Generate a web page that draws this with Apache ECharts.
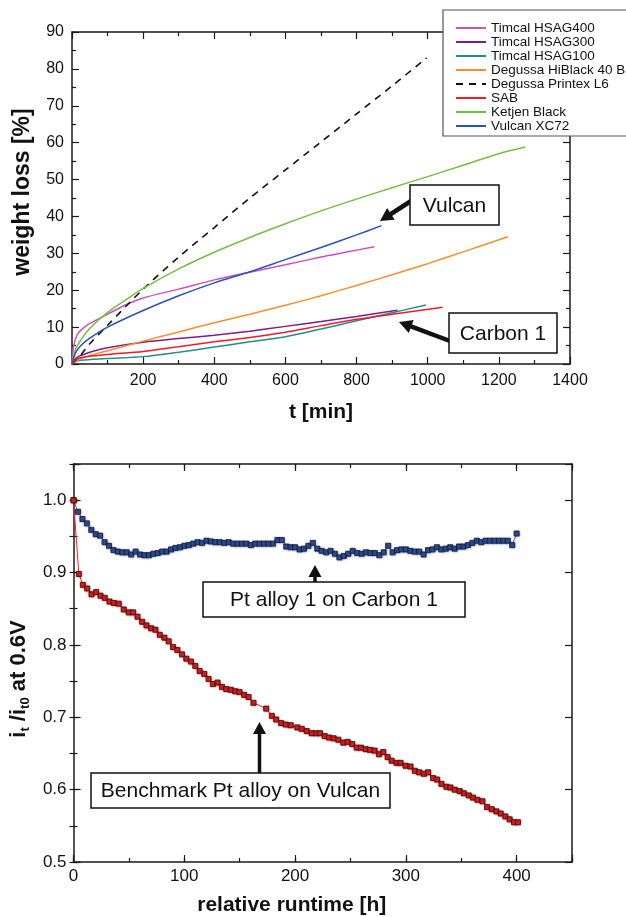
<!DOCTYPE html>
<html><head><meta charset="utf-8">
<script src="https://cdn.jsdelivr.net/npm/echarts@6/dist/echarts.min.js"></script>
<style>html,body{margin:0;padding:0;background:#fff}#c{width:626px;height:917px}</style>
</head><body><div id="c"></div>
<script>
// ---------- Top panel: weight loss [%] vs t [min] ----------
const hsag400T = [0,5,15,30,50,100,150,200,300,400,500,600,700,775,850];
const hsag400V = [0,5,8,9.6,11.0,13.5,16,17.9,20.3,22.8,24.9,26.9,29,30.4,31.8];
const hsag300T = [0,10,25,50,100,200,300,400,500,600,700,800,915];
const hsag300V = [0,1.5,2.3,3.2,4.4,5.9,6.9,7.8,8.9,10.2,11.5,12.9,14.6];
const hsag100T = [0,10,25,50,100,200,300,400,500,600,700,800,900,995];
const hsag100V = [0,0.7,1,1.2,1.5,2,3.2,4.6,6,7.4,9.5,11.7,13.9,16];
const hiblackT = [0,25,50,100,200,300,400,500,600,700,800,900,1000,1100,1226];
const hiblackV = [0,1.5,2.3,3.6,6.2,8.7,11.2,13.5,15.9,18.5,21.3,24.2,27.2,30.4,34.5];
const printexT = [0,25,50,100,200,300,400,500,600,700,800,900,997];
const printexV = [0,2.5,5.5,10.5,20.3,29,37,45,52.6,60.2,67.8,75.4,83];
const sabT = [0,10,25,50,100,200,300,400,500,600,700,800,900,1042];
const sabV = [0,1.2,1.7,2.1,2.6,3.4,4.7,6,7.2,8.6,10.4,12.1,13.5,15.4];
const ketjenT = [0,10,25,50,100,150,200,300,400,500,600,700,800,900,1000,1100,1200,1275];
const ketjenV = [0,4,6.5,9.7,14,17.3,20.5,25.8,30.3,34.3,38,41.5,44.7,47.8,50.8,53.9,57,58.8];
const vulcanT = [0,10,25,50,100,200,300,400,500,600,700,800,870];
const vulcanV = [0,3,5,7,10,14.5,18.5,22,25.0,28.3,31.6,35.0,37.5];

const topNames = ['Timcal HSAG400','Timcal HSAG300','Timcal HSAG100','Degussa HiBlack 40 B2','Degussa Printex L6','SAB','Ketjen Black','Vulcan XC72'];
const topColors = ['#cc4fc0','#7b1f86','#1f8f8a','#ff8c2a','#111111','#ee1c25','#70c040','#2a52b8'];
const topX = [0,200,400,600,800,1000,1200,1400];
const topY = [0,10,20,30,40,50,60,70,80,90];

// ---------- Bottom panel: i_t/i_t0 at 0.6V vs relative runtime [h] ----------
const carbon1T = [0,4,8,12,16,20,24,28,32,36,40,44,48,52,56,60,64,68,72,76,80,84,88,92,96,100,104,108,112,116,120,124,128,132,136,140,144,148,152,156,160,164,168,172,176,180,184,188,192,196,200,204,208,212,216,220,224,228,232,236,240,244,248,252,256,260,264,268,272,276,280,284,288,292,296,300,304,308,312,316,320,324,328,332,336,340,344,348,352,356,360,364,368,372,376,380,384,388,392,396,400];
const carbon1V = [1.000,0.984,0.974,0.968,0.959,0.953,0.951,0.942,0.937,0.931,
0.929,0.928,0.928,0.925,0.929,0.925,0.924,0.924,0.926,0.927,
0.929,0.929,0.932,0.934,0.935,0.937,0.938,0.940,0.942,0.941,
0.944,0.943,0.942,0.942,0.941,0.942,0.940,0.940,0.940,0.940,
0.938,0.940,0.940,0.940,0.940,0.940,0.945,0.945,0.936,0.935,
0.935,0.932,0.933,0.937,0.941,0.933,0.930,0.928,0.930,0.926,
0.921,0.923,0.926,0.930,0.927,0.926,0.928,0.927,0.927,0.924,
0.928,0.937,0.928,0.931,0.932,0.932,0.930,0.929,0.929,0.925,
0.931,0.932,0.935,0.932,0.933,0.935,0.933,0.936,0.936,0.938,
0.941,0.944,0.942,0.944,0.944,0.944,0.944,0.944,0.944,0.938,
0.954];
const benchT = [0,4.8,8.4,12.3,16.2,20.4,24.3,28.2,32.4,36.3,40.8,45.3,49.8,53.8,57.7,61.9,65.8,70,73.9,77.8,82,85.9,89.8,93.7,97.9,101.8,106,109.9,113.8,118,121.9,125.8,130,133.9,137.8,142,145.9,149.8,154,158,162.4,173.9,179,182.9,187.4,191.6,196.1,202,206,210.5,215,219,222.5,226.7,230.6,234.8,239,243.5,247.5,251.6,255.6,259.5,263.7,267.6,271.8,275.7,279.6,283.5,287.1,291.6,295.2,299.7,304.2,308.1,312,316.2,320.1,324.6,328.2,332.1,336.6,340.2,344.1,348.6,352.3,356.8,360.6,364.6,369.1,373.3,377.5,381.7,385.6,389.8,393.7,397.6,401.2];
const benchV = [1.000,0.898,0.883,0.878,0.870,0.873,0.868,0.865,0.860,0.858,0.857,0.849,0.845,0.845,0.839,0.832,0.827,0.823,0.821,0.814,0.810,0.805,0.797,0.793,0.787,0.781,0.777,0.771,0.764,0.760,0.753,0.746,0.748,0.742,0.739,0.738,0.736,0.735,0.731,0.728,0.720,0.712,0.702,0.697,0.692,0.690,0.689,0.686,0.684,0.681,0.678,0.678,0.678,0.674,0.672,0.671,0.669,0.665,0.666,0.663,0.658,0.658,0.656,0.655,0.654,0.649,0.652,0.645,0.640,0.637,0.637,0.633,0.632,0.626,0.624,0.622,0.624,0.616,0.614,0.608,0.604,0.603,0.600,0.598,0.595,0.592,0.589,0.586,0.584,0.576,0.573,0.570,0.567,0.563,0.559,0.555,0.555];
const botX = [0,100,200,300,400];
const botY = [0.5,0.6,0.7,0.8,0.9,1.0];

// ---------- rendering ----------
const FONT = '"Liberation Sans", Arial, Helvetica, sans-serif';
const AX = '#1a1a1a';
const chart = echarts.init(document.getElementById('c'), null, {renderer: 'canvas'});
function pairs(t, v) { return t.map((x, i) => [x, v[i]]); }

function axisBase(o) {
  return Object.assign({
    type: 'value',
    axisLine: {show: true, onZero: false, lineStyle: {color: AX, width: 1.5}},
    axisTick: {show: true, inside: true, length: 7, lineStyle: {color: AX, width: 1.2}},
    minorTick: {show: false},
    splitLine: {show: false},
    minorSplitLine: {show: false},
    axisLabel: {show: false},
    silent: true
  }, o);
}
const lbl = (size, fmt, margin) => ({show: true, fontSize: size, color: '#111', fontFamily: FONT, margin: margin, formatter: fmt});
const minor2 = {show: true, splitNumber: 2, length: 4, lineStyle: {color: AX, width: 1.2}};
const shortTick = {show: true, inside: true, length: 4, lineStyle: {color: AX, width: 1.2}};
const nameStyle = (extra) => Object.assign({fontSize: 21, fontWeight: 'bold', color: '#111', fontFamily: FONT}, extra || {});

const xAxes = [
  axisBase({gridIndex: 0, position: 'bottom', min: topX[0], max: topX[topX.length-1], interval: 200, minorTick: minor2,
    axisLabel: lbl(16, v => v === 0 ? '' : String(v), 9),
    name: 't [min]', nameLocation: 'middle', nameGap: 38, nameTextStyle: nameStyle()}),
  axisBase({gridIndex: 0, position: 'top', min: topX[0], max: topX[topX.length-1], interval: 200, minorTick: minor2}),
  axisBase({gridIndex: 1, position: 'bottom', min: 0, max: 450, interval: 100,
    axisLabel: lbl(17, v => (v > botX[botX.length-1] ? '' : String(v)), 6),
    name: 'relative runtime [h]', nameLocation: 'middle', nameGap: 33, nameTextStyle: nameStyle({padding: [0, 62, 0, 0]})}),
  axisBase({gridIndex: 1, position: 'bottom', min: 0, max: 450, interval: 50, axisLine: {show: false}, axisTick: shortTick}),
  axisBase({gridIndex: 1, position: 'top', min: 0, max: 450, interval: 100}),
  axisBase({gridIndex: 1, position: 'top', min: 0, max: 450, interval: 50, axisLine: {show: false}, axisTick: shortTick})
];
const yAxes = [
  axisBase({gridIndex: 0, position: 'left', min: topY[0], max: topY[topY.length-1], interval: 10, minorTick: minor2,
    axisLabel: lbl(16, v => String(v), 8),
    name: 'weight loss [%]', nameLocation: 'middle', nameGap: 38, nameRotate: 90, nameTextStyle: nameStyle({fontSize: 23, padding: [0, 0, 0, 12]})}),
  axisBase({gridIndex: 0, position: 'right', min: topY[0], max: topY[topY.length-1], interval: 10, minorTick: minor2}),
  axisBase({gridIndex: 1, position: 'left', min: 0.5, max: 1.05, interval: 0.1,
    axisLabel: lbl(17, v => (v > 1.0001 ? '' : v.toFixed(1)), 7),
    name: '{a|i}{s|t}{a| /i}{s|t0}{a| at 0.6V}', nameLocation: 'middle', nameGap: 36, nameRotate: 90,
    nameTextStyle: {padding: [0, 32, 0, 0], rich: {
      a: {fontSize: 22, fontWeight: 'bold', fontFamily: FONT, color: '#111', lineHeight: 26},
      s: {fontSize: 13, fontWeight: 'bold', fontFamily: FONT, color: '#111', lineHeight: 14, verticalAlign: 'bottom'}
    }}}),
  axisBase({gridIndex: 1, position: 'left', min: 0.5, max: 1.05, interval: 0.05, axisLine: {show: false}, axisTick: shortTick}),
  axisBase({gridIndex: 1, position: 'right', min: 0.5, max: 1.05, interval: 0.1}),
  axisBase({gridIndex: 1, position: 'right', min: 0.5, max: 1.05, interval: 0.05, axisLine: {show: false}, axisTick: shortTick})
];

const topData = [
  pairs(hsag400T, hsag400V), pairs(hsag300T, hsag300V), pairs(hsag100T, hsag100V), pairs(hiblackT, hiblackV),
  pairs(printexT, printexV), pairs(sabT, sabV), pairs(ketjenT, ketjenV), pairs(vulcanT, vulcanV)
];
const series = topNames.map((n, i) => ({
  name: n, type: 'line', xAxisIndex: 0, yAxisIndex: 0, data: topData[i],
  symbol: 'none', smooth: 0.3, silent: true, animation: false,
  lineStyle: {color: topColors[i], width: i === 4 ? 1.6 : 1.5, type: i === 4 ? [7, 6] : 'solid'},
  itemStyle: {color: topColors[i]}, z: 2
}));
series.push({
  name: 'Pt alloy 1 on Carbon 1', type: 'line', xAxisIndex: 2, yAxisIndex: 2, data: pairs(carbon1T, carbon1V),
  symbol: 'rect', symbolSize: 5, showAllSymbol: true, animation: false, silent: true,
  lineStyle: {color: '#3b63c8', width: 1},
  itemStyle: {color: '#2c4f9e', borderColor: '#141c3a', borderWidth: 0.8, shadowColor: 'rgba(0,0,0,0.35)', shadowBlur: 2, shadowOffsetX: 0.5, shadowOffsetY: 0.5}, z: 3
});
series.push({
  name: 'Benchmark Pt alloy on Vulcan', type: 'line', xAxisIndex: 2, yAxisIndex: 2, data: pairs(benchT, benchV),
  symbol: 'rect', symbolSize: 5, showAllSymbol: true, animation: false, silent: true,
  lineStyle: {color: '#ff1a1a', width: 1},
  itemStyle: {color: '#e41b1b', borderColor: '#4a0808', borderWidth: 0.8, shadowColor: 'rgba(0,0,0,0.35)', shadowBlur: 2, shadowOffsetX: 0.5, shadowOffsetY: 0.5}, z: 3
});

function box(x, y, w, h, text) {
  return [
    {type: 'rect', shape: {x: x, y: y, width: w, height: h}, style: {fill: '#fff', stroke: '#111', lineWidth: 1.5}, z: 100},
    {type: 'text', x: x + w / 2, y: y + h / 2 + 1, style: {text: text, fontSize: 21, fontFamily: FONT, fill: '#111', align: 'center', verticalAlign: 'middle'}, z: 101}
  ];
}
function arrow(x1, y1, x2, y2, hl, hw, lw) {
  const dx = x2 - x1, dy = y2 - y1, L = Math.hypot(dx, dy), ux = dx / L, uy = dy / L;
  const bx = x2 - ux * hl, by = y2 - uy * hl, px = -uy, py = ux;
  return [
    {type: 'line', shape: {x1: x1, y1: y1, x2: bx + ux, y2: by + uy}, style: {stroke: '#111', lineWidth: lw}, z: 100},
    {type: 'polygon', shape: {points: [[x2, y2], [bx + px * hw, by + py * hw], [bx - px * hw, by - py * hw]]}, style: {fill: '#111'}, z: 100}
  ];
}
const graphics = [].concat(
  arrow(411, 201, 380, 221, 13, 7, 4.5),
  box(410, 185, 89, 40, 'Vulcan'),
  arrow(450, 341, 399, 322, 13, 7, 4.5),
  box(449, 313, 108, 40, 'Carbon 1'),
  arrow(315, 583, 315, 565, 12, 6.5, 3.5),
  box(203, 582, 262, 35, 'Pt alloy 1 on Carbon 1'),
  arrow(259.5, 774, 259.5, 722, 12, 6.5, 3.5),
  box(91, 773, 299, 35, 'Benchmark Pt alloy on Vulcan')
);

chart.setOption({
  animation: false,
  backgroundColor: '#fff',
  grid: [
    {left: 72, top: 32, width: 498, height: 332, containLabel: false},
    {left: 73, top: 464, width: 499, height: 399, containLabel: false}
  ],
  xAxis: xAxes,
  yAxis: yAxes,
  legend: {
    show: true, orient: 'vertical', left: 443, top: 10, itemGap: 0, itemWidth: 30, itemHeight: 14.7,
    padding: [11, 10, 3, 12], backgroundColor: '#fff', borderColor: '#555', borderWidth: 1.2,
    itemStyle: {color: 'rgba(0,0,0,0)', borderColor: 'rgba(0,0,0,0)', borderWidth: 0, opacity: 0},
    textStyle: {fontSize: 13.5, color: '#111', fontFamily: FONT},
    data: topNames, selectedMode: false, z: 10
  },
  series: series,
  graphic: {elements: graphics}
});
</script></body></html>
